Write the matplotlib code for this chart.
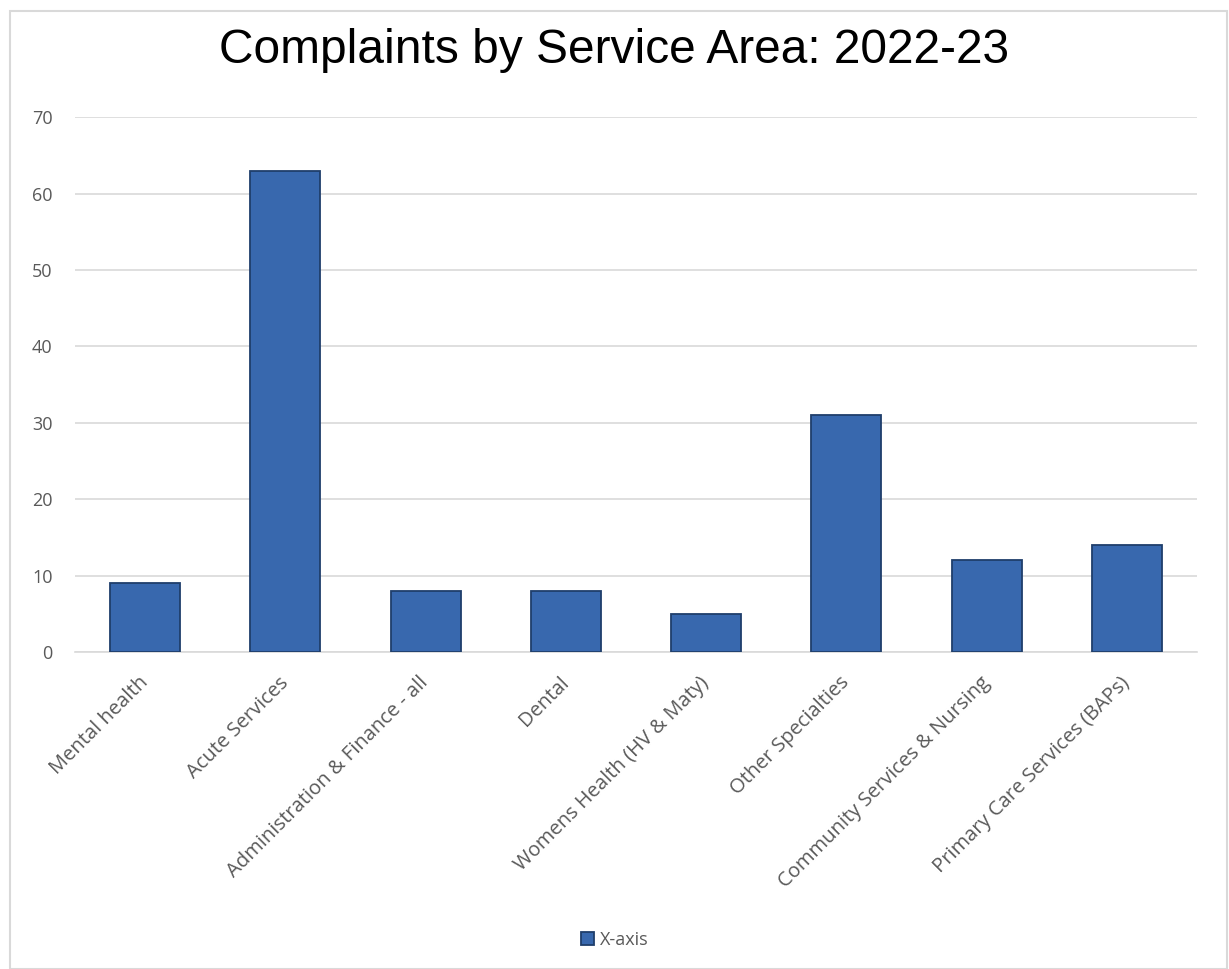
import matplotlib.pyplot as plt
from matplotlib.patches import Rectangle

categories = ["Mental health", "Acute Services", "Administration & Finance - all",
              "Dental", "Womens Health (HV & Maty)", "Other Specialties",
              "Community Services & Nursing", "Primary Care Services (BAPs)"]
values = [9, 63, 8, 8, 5, 31, 12, 14]
series_name = "X-axis"

fig = plt.figure(figsize=(12.29, 9.69), dpi=100)
ax = fig.add_axes([0.061, 0.327, 0.913, 0.552])

x = range(len(categories))
ax.bar(x, values, width=0.5, color="#3868AE", edgecolor="#1F3E6B",
       linewidth=1.3, label=series_name, zorder=3)

ax.set_xlim(-0.5, len(categories) - 0.5)
ax.set_ylim(0, 70)
ax.set_yticks(range(0, 71, 10))
ax.grid(axis="y", color="#D9D9D9", linewidth=1.2, zorder=0)
for s in ["top", "right", "left"]:
    ax.spines[s].set_visible(False)
ax.spines["bottom"].set_color("#D9D9D9")
ax.spines["bottom"].set_linewidth(1.2)
ax.tick_params(axis="both", length=0, colors="#595959", labelsize=13)
ax.tick_params(axis="y", pad=16)
ax.tick_params(axis="x", pad=20)
ax.set_xticks(list(x))
ax.set_xticklabels(categories, rotation=45, ha="right", va="center",
                   rotation_mode="anchor", fontfamily="Open Sans", fontsize=14.5)
for t in ax.get_yticklabels():
    t.set_fontfamily("Open Sans")

fig.text(0.5, 0.948, "Complaints by Service Area: 2022-23", ha="center", va="center",
         fontsize=34.5, fontfamily="Liberation Sans", color="black")

leg = fig.legend(loc="center", bbox_to_anchor=(0.5, 0.03), frameon=False,
                 handlelength=0.75, handleheight=0.75, handletextpad=0.3,
                 prop={"family": "Open Sans", "size": 13})
for t in leg.get_texts():
    t.set_color("#595959")

fig.patches.append(Rectangle((0.008, 0.0), 0.99, 0.989, transform=fig.transFigure,
                             fill=False, edgecolor="#D9D9D9", linewidth=1.5))

fig.savefig("out.png", dpi=100)
